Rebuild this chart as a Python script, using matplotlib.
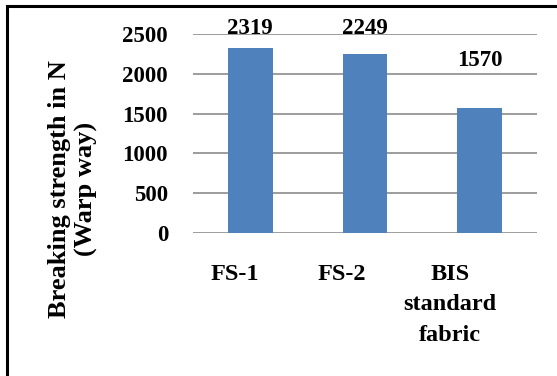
import matplotlib.pyplot as plt
import matplotlib.transforms as mtransforms
from matplotlib.patches import Rectangle
import numpy as np

# Breaking strength, warp way (N)
categories = ['FS-1', 'FS-2', 'BIS\nstandard\nfabric']
strength = [2319, 2249, 1570]
y_ticks = [0, 500, 1000, 1500, 2000, 2500]

plt.rcParams['font.family'] = 'Liberation Serif'
plt.rcParams['font.weight'] = 'bold'

fig = plt.figure(figsize=(5.57, 3.76), dpi=100)
ax = fig.add_axes([193 / 557, 1 - 233 / 376, 344 / 557, 199 / 376])

x = np.arange(len(categories))
bars = ax.bar(x, strength, width=0.39, color='#4F81BD', zorder=3)

ax.set_xlim(-0.5, len(categories) - 0.5)
ax.set_ylim(0, 2500)
ax.set_yticks(y_ticks)
ax.set_yticklabels([str(t) for t in y_ticks], fontsize=16.5, fontweight='bold')
ax.yaxis.grid(True, color='#8c8c8c', linewidth=1.2, zorder=0)
ax.set_axisbelow(True)
for s in ax.spines.values():
    s.set_visible(False)
ax.tick_params(axis='y', length=0, pad=18)

ax.set_xticks(x)
ax.set_xticklabels(categories, fontsize=17.5, fontweight='bold', linespacing=1.62)
ax.tick_params(axis='x', length=0, pad=22)
# nudge category labels a little to the left
for i, lab in enumerate(ax.get_xticklabels()):
    shift = mtransforms.ScaledTranslation(-(16 + 7 * i) / 100, 0, fig.dpi_scale_trans)
    lab.set_transform(lab.get_transform() + shift)

# value labels above the bars
label_y = [2575, 2575, 2161]
for xi, v, ly in zip(x, strength, label_y):
    ax.text(xi, ly, f'{v}', ha='center', va='center', fontsize=16.5, fontweight='bold')

fig.text(73 / 557, 1 - 189 / 376, 'Breaking strength in N\n(Warp way)', rotation=90,
         ha='center', va='center', fontsize=19, fontweight='bold', linespacing=1.25)

# outer frame
fig.patches.append(Rectangle((7 / 557, -0.1), 1.2, 1.1 - 6 / 376, transform=fig.transFigure,
                             fill=False, edgecolor='black', linewidth=2.2))

fig.savefig('out.png', dpi=100)
